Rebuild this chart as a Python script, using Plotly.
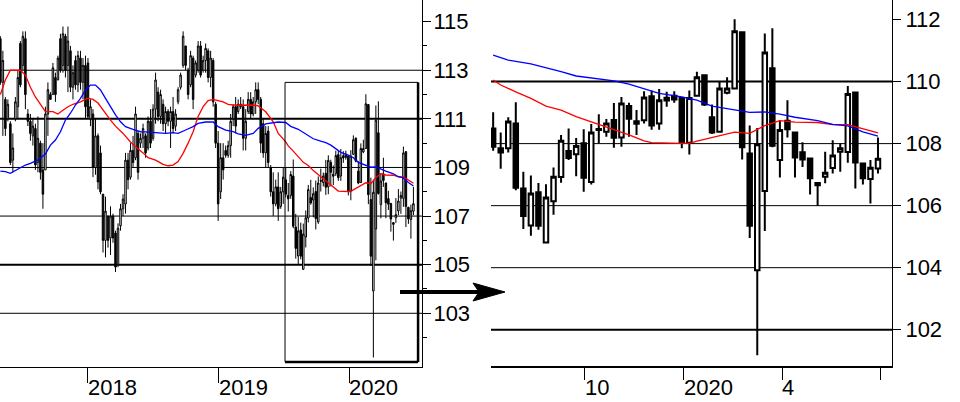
import pandas as pd
import plotly.graph_objects as go

# ---------------- data ----------------
start_week = "2017-05-01"
n_weeks = 166
weeks = pd.date_range(start_week, periods=n_weeks, freq="7D")
zoom_start_idx = 114  # first week shown in the right-hand (zoomed) panel

opens = [
    114.3, 112.5, 111.8, 111.0, 110.8, 109.3, 111.0, 111.5, 114.1, 113.2,
    114.3, 111.2, 110.9, 110.3, 110.6, 109.2, 110.0, 108.9, 108.9, 111.2,
    112.0, 112.0, 112.7, 112.6, 114.3, 113.2, 114.4, 113.2, 113.8, 112.3,
    113.4, 112.4, 113.5, 112.5, 113.2, 113.3, 111.0, 111.2, 109.0, 110.3,
    109.6, 107.9, 106.0, 107.0, 106.1, 107.0, 106.3, 105.0, 106.6, 107.3,
    107.5, 109.3, 108.6, 109.7, 109.4, 110.4, 110.0, 110.2, 110.3, 109.8,
    110.9, 110.2, 111.4, 112.1, 111.1, 111.6, 110.8, 111.3, 110.9, 111.3,
    110.7, 111.7, 112.3, 113.2, 114.0, 113.0, 112.4, 113.5, 112.8, 113.0,
    114.0, 113.0, 113.4, 113.8, 112.7, 113.4, 111.6, 110.0, 108.0, 109.4,
    109.7, 109.5, 109.9, 111.0, 111.5, 111.3, 111.6, 111.5, 110.2, 111.3,
    111.8, 111.2, 111.7, 112.2, 111.8, 110.8, 109.6, 110.5, 109.0, 108.0,
    107.5, 108.2, 107.4, 108.0,
    108.49, 107.85, 107.85, 108.65, 106.55, 105.36, 106.43, 104.81, 106.14, 106.92,
    107.76, 107.66, 108.01, 106.76, 108.47, 108.38, 108.76, 108.20, 109.21, 108.72,
    108.75, 109.53, 108.65, 109.48, 109.54, 109.47, 108.03, 109.54, 110.20, 108.85,
    108.38, 109.64, 109.78, 111.59, 107.68, 103.92, 106.47, 110.43, 107.47, 108.74,
    108.36, 107.72, 107.52, 106.73, 106.93, 107.21, 107.74, 107.73, 109.65, 107.36,
    106.86, 107.20,
]
highs = [
    114.4, 113.8, 111.9, 111.8, 110.9, 110.4, 111.9, 113.0, 114.2, 114.6,
    114.6, 111.4, 111.2, 111.0, 110.8, 111.1, 110.1, 110.0, 111.5, 112.5,
    112.1, 113.3, 112.9, 113.6, 114.5, 114.8, 114.5, 114.8, 114.0, 113.2,
    113.6, 113.8, 113.8, 113.5, 113.6, 113.5, 111.8, 111.4, 111.0, 110.4,
    109.9, 107.9, 107.8, 107.0, 107.4, 107.1, 106.4, 106.7, 107.5, 107.9,
    109.6, 109.6, 110.0, 110.3, 111.5, 110.5, 110.4, 110.8, 110.4, 111.1,
    111.4, 111.6, 112.9, 112.3, 112.2, 111.8, 111.5, 111.4, 111.5, 111.9,
    111.4, 112.3, 112.9, 114.6, 114.0, 113.1, 113.8, 113.6, 113.4, 114.2,
    114.2, 113.6, 114.1, 113.9, 113.8, 113.5, 111.7, 110.5, 110.0, 110.0,
    109.9, 110.1, 111.2, 111.6, 111.9, 111.8, 111.9, 111.8, 111.4, 112.1,
    112.1, 111.9, 112.5, 112.5, 111.9, 111.0, 110.7, 110.7, 109.1, 108.8,
    108.5, 108.8, 108.2, 109.0,
    109.01, 108.36, 108.85, 109.33, 107.09, 106.97, 106.73, 106.69, 107.23, 108.28,
    108.49, 108.18, 108.46, 108.63, 108.95, 108.79, 109.31, 109.50, 109.32, 109.08,
    109.69, 109.71, 109.76, 109.67, 109.69, 109.49, 109.71, 110.32, 110.24, 109.26,
    109.99, 110.14, 112.01, 111.61, 108.58, 108.50, 111.55, 111.72, 108.76, 109.40,
    108.38, 108.04, 107.54, 106.75, 107.74, 108.11, 108.01, 109.86, 109.67, 107.38,
    107.47, 108.20,
]
lows = [
    112.4, 110.3, 110.3, 110.9, 109.1, 108.8, 110.9, 111.0, 112.3, 113.0,
    111.4, 110.7, 110.1, 109.9, 108.9, 108.8, 108.5, 107.3, 108.9, 110.3,
    111.8, 112.0, 111.7, 112.6, 112.9, 112.9, 112.7, 112.1, 112.1, 111.8,
    112.2, 112.1, 112.2, 111.8, 111.0, 111.0, 110.7, 108.6, 108.7, 108.1,
    107.9, 105.5, 105.3, 105.7, 105.4, 105.9, 104.7, 104.9, 106.4, 107.0,
    107.1, 108.1, 108.5, 109.0, 109.3, 108.5, 109.8, 109.8, 109.4, 109.7,
    109.8, 110.1, 110.8, 110.9, 110.8, 110.5, 110.4, 110.7, 109.8, 110.4,
    110.5, 111.6, 112.2, 113.1, 113.0, 111.8, 112.3, 111.4, 112.7, 112.9,
    112.7, 112.9, 112.9, 112.5, 112.3, 111.5, 109.8, 106.8, 107.7, 108.5,
    109.4, 109.4, 109.4, 110.7, 110.4, 111.2, 111.4, 109.7, 109.7, 111.2,
    111.0, 111.1, 111.2, 111.6, 109.6, 109.4, 109.0, 109.0, 107.8, 107.0,
    107.4, 106.8, 107.3, 107.5,
    107.77, 107.19, 107.71, 106.50, 105.25, 105.03, 105.22, 104.78, 105.71, 106.74,
    107.47, 106.95, 106.45, 106.68, 108.01, 108.22, 107.87, 107.90, 108.22, 108.28,
    108.65, 108.45, 108.45, 109.19, 109.32, 107.85, 107.65, 109.52, 109.21, 108.31,
    108.36, 109.59, 109.76, 107.49, 104.96, 101.18, 105.18, 107.88, 106.91, 108.20,
    106.91, 107.25, 106.36, 105.99, 106.72, 107.04, 107.09, 107.38, 106.55, 106.68,
    106.07, 107.04,
]
closes = [
    112.5, 113.4, 110.6, 111.6, 109.2, 109.8, 111.7, 112.7, 112.4, 114.4,
    112.0, 110.9, 110.4, 110.7, 109.1, 110.2, 108.8, 107.9, 111.2, 112.2,
    111.8, 113.1, 112.0, 113.5, 113.0, 114.5, 113.0, 114.2, 112.3, 112.9,
    112.4, 113.6, 112.5, 113.2, 111.5, 111.1, 111.5, 109.0, 110.3, 108.4,
    108.0, 106.0, 107.2, 106.0, 107.0, 106.1, 104.9, 106.5, 107.3, 107.7,
    109.3, 108.5, 109.7, 109.2, 111.2, 108.8, 110.2, 110.6, 109.6, 110.9,
    110.0, 111.4, 112.6, 111.1, 112.0, 110.8, 111.3, 110.9, 111.3, 110.6,
    111.2, 112.2, 112.8, 114.4, 113.2, 112.0, 113.6, 111.8, 113.3, 114.0,
    112.8, 113.4, 113.9, 112.7, 113.5, 111.7, 110.0, 107.5, 109.4, 108.9,
    109.5, 109.9, 110.9, 111.5, 110.7, 111.6, 111.5, 110.2, 110.9, 111.8,
    111.2, 111.7, 112.2, 111.8, 110.0, 109.6, 110.4, 109.2, 108.0, 107.5,
    108.2, 107.3, 108.0, 108.6,
    107.90, 107.71, 108.71, 106.58, 105.67, 106.39, 105.35, 106.26, 106.93, 108.09,
    107.54, 107.92, 106.90, 108.36, 108.44, 108.65, 108.19, 109.29, 108.80, 108.64,
    109.49, 108.58, 109.40, 109.39, 109.42, 108.04, 109.47, 110.14, 109.26, 108.36,
    109.78, 109.78, 111.62, 107.88, 105.35, 107.98, 110.94, 107.93, 108.44, 108.46,
    107.55, 107.49, 106.88, 106.66, 107.06, 107.62, 107.85, 109.60, 107.39, 106.88,
    107.22, 107.51,
]

# moving averages (week number, value)
red_ma_weeks = [0, 2, 4, 8, 10, 12, 14, 16, 18, 21, 23, 25, 27, 29, 32, 35, 37, 39, 41, 44,
                46, 49, 52, 54, 57, 59, 62, 65, 67, 69, 71, 73, 75, 77, 79, 81, 83, 85, 89, 91,
                94, 97, 101, 103, 106, 109, 111, 114, 115, 117, 119, 121, 123, 125, 128, 130,
                132, 134, 135, 139, 140, 141, 143, 146, 148, 150, 152, 154, 157, 159, 161, 163, 165]
red_ma_vals = [112.0, 112.6, 113.0, 113.0, 112.8, 112.3, 111.9, 111.6, 111.3, 111.3,
               111.2, 111.35, 111.5, 111.6, 111.7, 111.85, 111.8, 111.65, 111.35, 110.95,
               110.7, 110.4, 110.05, 109.85, 109.6, 109.4, 109.3, 109.13, 109.07, 109.1,
               109.24, 109.58, 110.0, 110.47, 111.1, 111.5, 111.75, 111.8, 111.7, 111.6,
               111.56, 111.56, 111.57, 111.53, 111.29, 110.88, 110.4, 110.05, 109.89, 109.67,
               109.46, 109.21, 109.08, 108.87, 108.62, 108.44, 108.28, 108.09, 108.03, 108.01,
               108.01, 108.08, 108.19, 108.37, 108.33, 108.58, 108.74, 108.69, 108.68, 108.61,
               108.61, 108.49, 108.35]
blue_ma_weeks = [0, 2, 4, 7, 10, 12, 15, 18, 20, 22, 24, 26, 28, 30, 32, 34, 36, 38, 40, 42,
                 44, 46, 48, 50, 53, 56, 58, 61, 63, 66, 69, 71, 74, 77, 79, 82, 85, 87, 90, 93,
                 95, 98, 101, 103, 106, 109, 111, 114, 116, 119, 121, 123, 125, 128, 130, 132,
                 134, 136, 139, 141, 143, 146, 148, 150, 152, 154, 157, 159, 161, 163, 165]
blue_ma_vals = [108.85, 108.83, 108.76, 108.92, 109.1, 109.17, 109.31, 109.55, 109.92, 110.13,
                110.47, 110.95, 111.23, 111.57, 111.84, 112.19, 112.39, 112.39, 112.19, 111.84,
                111.5, 111.16, 110.88, 110.68, 110.57, 110.47, 110.46, 110.43, 110.4, 110.4,
                110.43, 110.4, 110.54, 110.68, 110.81, 110.87, 110.87, 110.68, 110.54, 110.47,
                110.38, 110.32, 110.4, 110.61, 110.79, 110.84, 110.87, 110.85, 110.69, 110.57,
                110.45, 110.32, 110.18, 110.08, 110.02, 109.92, 109.78, 109.62, 109.51, 109.4,
                109.21, 109.1, 109.01, 109.02, 108.95, 108.85, 108.74, 108.62, 108.57, 108.38,
                108.24]

left_y_ticks = [103, 105, 107, 109, 111, 113, 115]
left_y_minor = [102, 104, 106, 108, 110, 112, 114]
left_grid = [103, 105, 107, 109, 111, 113]
left_grid_heavy = [105, 111]
left_x_ticks = ["2018-01-01", "2019-01-01", "2020-01-01"]
left_x_labels = ["2018", "2019", "2020"]

right_y_ticks = [102, 104, 106, 108, 110, 112]
right_grid = [102, 104, 106, 108, 110]
right_grid_heavy = [102, 110]
right_x_ticks = ["2019-10-01", "2020-01-01", "2020-04-01", "2020-07-01"]
right_x_labels = ["10", "2020", "4", ""]

left_x_range = ["2017-04-30", "2020-07-23"]
left_y_range = [100.79, 115.89]
right_x_range = ["2019-07-06", "2020-07-12"]
right_y_range = [100.84, 112.63]
zoom_box_y = [101.0, 112.5]

# ---------------- figure ----------------
W, H = 960, 402
FONT = "Liberation Sans, Arial, sans-serif"
red_dates = weeks[0] + pd.to_timedelta([7 * w for w in red_ma_weeks], unit="D")
blue_dates = weeks[0] + pd.to_timedelta([7 * w for w in blue_ma_weeks], unit="D")


def candle_style(lw):
    return dict(
        increasing=dict(line=dict(color="black", width=lw), fillcolor="white"),
        decreasing=dict(line=dict(color="black", width=lw), fillcolor="black"),
        whiskerwidth=0, showlegend=False, hoverinfo="skip",
    )


fig = go.Figure()
fig.add_trace(go.Candlestick(x=weeks, open=opens, high=highs, low=lows, close=closes,
                             xaxis="x", yaxis="y", **candle_style(1)))
fig.add_trace(go.Scatter(x=red_dates, y=red_ma_vals, mode="lines", xaxis="x", yaxis="y",
                         line=dict(color="#ff0000", width=1.3), showlegend=False, hoverinfo="skip"))
fig.add_trace(go.Scatter(x=blue_dates, y=blue_ma_vals, mode="lines", xaxis="x", yaxis="y",
                         line=dict(color="#0000ff", width=1.3), showlegend=False, hoverinfo="skip"))

s = zoom_start_idx
fig.add_trace(go.Candlestick(x=weeks[s:], open=opens[s:], high=highs[s:], low=lows[s:],
                             close=closes[s:], xaxis="x2", yaxis="y2", **candle_style(2)))
rsel = [i for i, w in enumerate(red_ma_weeks) if w >= s]
bsel = [i for i, w in enumerate(blue_ma_weeks) if w >= s]
fig.add_trace(go.Scatter(x=[red_dates[i] for i in rsel], y=[red_ma_vals[i] for i in rsel],
                         mode="lines", xaxis="x2", yaxis="y2",
                         line=dict(color="#ff0000", width=1.3), showlegend=False, hoverinfo="skip"))
fig.add_trace(go.Scatter(x=[blue_dates[i] for i in bsel], y=[blue_ma_vals[i] for i in bsel],
                         mode="lines", xaxis="x2", yaxis="y2",
                         line=dict(color="#0000ff", width=1.3), showlegend=False, hoverinfo="skip"))


def px(x):
    return x / W


def py(y):
    return 1 - y / H


tickfont = dict(family=FONT, size=22, color="black")

shapes = []
for v in left_grid:
    shapes.append(dict(type="line", xref="x domain", yref="y", x0=0, x1=1, y0=v, y1=v,
                       layer="below",
                       line=dict(color="black", width=2 if v in left_grid_heavy else 1)))
for v in right_grid:
    shapes.append(dict(type="line", xref="x2 domain", yref="y2", x0=0, x1=1, y0=v, y1=v,
                       layer="below",
                       line=dict(color="black", width=2 if v in right_grid_heavy else 1)))
# zoom box on left panel
shapes.append(dict(type="rect", xref="x", yref="y", x0=right_x_range[0], x1=right_x_range[1],
                   y0=zoom_box_y[0], y1=zoom_box_y[1], line=dict(color="black", width=1)))
shapes.append(dict(type="line", xref="x", yref="y", x0=right_x_range[1], x1=right_x_range[1],
                   y0=zoom_box_y[0], y1=zoom_box_y[1], line=dict(color="black", width=2.5)))
shapes.append(dict(type="line", xref="x", yref="y", x0=right_x_range[0], x1=right_x_range[1],
                   y0=zoom_box_y[0], y1=zoom_box_y[0], line=dict(color="black", width=2.5)))
# arrow between panels
shapes.append(dict(type="line", xref="paper", yref="paper", x0=px(400), x1=px(482),
                   y0=py(292), y1=py(292), line=dict(color="black", width=4)))
shapes.append(dict(type="path", xref="paper", yref="paper",
                   path=f"M {px(505)},{py(292)} L {px(473)},{py(283)} L {px(479)},{py(292)} "
                        f"L {px(473)},{py(301)} Z",
                   fillcolor="black", line=dict(color="black", width=1)))

annotations = []
for d, t in zip(left_x_ticks, left_x_labels):
    annotations.append(dict(x=d, y=py(387), xref="x", yref="paper", text=t, showarrow=False,
                            xanchor="left", yanchor="middle", font=tickfont, xshift=-2))
for d, t in zip(right_x_ticks, right_x_labels):
    if t:
        annotations.append(dict(x=d, y=py(387), xref="x2", yref="paper", text=t, showarrow=False,
                                xanchor="left", yanchor="middle", font=tickfont, xshift=-2))

axis_common = dict(showgrid=False, zeroline=False, linecolor="black", tickcolor="black",
                   showline=True, ticks="outside", fixedrange=True)

fig.update_layout(
    width=W, height=H, margin=dict(l=0, r=0, t=0, b=0),
    paper_bgcolor="white", plot_bgcolor="white", showlegend=False,
    boxgap=0.15,
    font=dict(family=FONT, color="black"),
    xaxis=dict(domain=[0, px(422)], range=left_x_range, type="date", anchor="y",
               tickvals=left_x_ticks, showticklabels=False, ticklen=15, linewidth=1,
               rangeslider=dict(visible=False), **axis_common),
    yaxis=dict(domain=[py(367), 1], range=left_y_range, anchor="x", side="right",
               tickvals=left_y_ticks, ticktext=[str(v) for v in left_y_ticks], ticklen=8,
               linewidth=1, tickfont=tickfont, ticklabelstandoff=-2,
               minor=dict(ticks="outside", ticklen=4, tickvals=left_y_minor, tickcolor="black"),
               **axis_common),
    xaxis2=dict(domain=[px(491), px(892)], range=right_x_range, type="date", anchor="y2",
                tickvals=right_x_ticks, showticklabels=False, ticklen=12, linewidth=2,
                rangeslider=dict(visible=False), **axis_common),
    yaxis2=dict(domain=[py(365.7), 1], range=right_y_range, anchor="x2", side="right",
                tickvals=right_y_ticks, ticktext=[str(v) for v in right_y_ticks], ticklen=8,
                linewidth=1, tickfont=tickfont, **axis_common),
    shapes=shapes,
    annotations=annotations,
)

fig.write_html(
    "out.html",
    config={"displayModeBar": False, "staticPlot": True},
    post_script="document.body.style.margin='0';document.body.style.padding='0';"
                "document.body.style.overflow='hidden';",
)
